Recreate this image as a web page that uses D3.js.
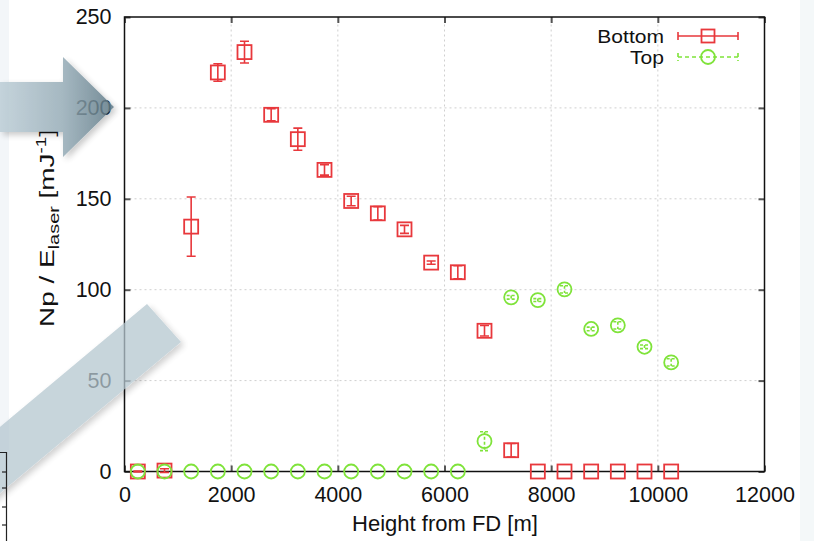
<!DOCTYPE html>
<html><head><meta charset="utf-8">
<script src="https://cdn.jsdelivr.net/npm/d3@7"></script>
<style>html,body{margin:0;padding:0;background:#fff;}svg{display:block;font-family:"Liberation Sans",Arial,Helvetica,sans-serif;}</style>
</head><body>
<svg id="c" width="814" height="541"></svg>
<script>
// ---- data ----
const heights = [250,750,1250,1750,2250,2750,3250,3750,4250,4750,5250,5750,6250,6750,7250,7750,8250,8750,9250,9750,10250];
const bottomVals = [0,0.5,134.7,219.5,230.7,196.2,182.8,165.9,148.8,142.0,133.2,114.9,109.6,77.4,11.7,0,0,0,0,0,0];
const bottomErr  = [0.3,1.0,16.3,4.8,6.0,3.3,6.1,2.9,2.6,3.7,2.2,0.9,3.6,2.9,3.7,0,0,0,0,0,0];
const topVals = [0,0,0,0,0,0,0,0,0,0,0,0,0,16.7,95.8,94.3,100.2,78.4,80.4,68.6,60.0];
const topErr  = [0,0,0,0,0,0,0,0,0,0,0,0,0,5.2,1.0,0.8,2.0,1.0,2.0,1.0,2.0];
const xTicks = [0,2000,4000,6000,8000,10000,12000];
const yTicks = [0,50,100,150,200,250];
const seriesNames = ["Bottom","Top"];

const RED = "#e8383c", GREEN = "#7fe33a";
const svg = d3.select("#c");
const x = d3.scaleLinear().domain([0,12000]).range([124.5,764.5]);
const y = d3.scaleLinear().domain([0,250]).range([471.5,17]);

// gridlines
const g = svg.append("g");
g.selectAll(".gx").data(xTicks.filter(v=>v>0&&v<12000)).join("line")
  .attr("x1",d=>x(d)).attr("x2",d=>x(d)).attr("y1",y(0)).attr("y2",y(250))
  .attr("stroke","#cfcfcf").attr("stroke-width",1).attr("stroke-dasharray","2,3");
g.selectAll(".gy").data(yTicks.filter(v=>v>0&&v<250)).join("line")
  .attr("y1",d=>y(d)).attr("y2",d=>y(d)).attr("x1",x(0)).attr("x2",x(12000))
  .attr("stroke","#cfcfcf").attr("stroke-width",1).attr("stroke-dasharray","2,3");

// axes
const fs = 21.5;
const ax = svg.append("g").attr("transform",`translate(${x(0)},0)`)
  .call(d3.axisLeft(y).tickValues(yTicks).tickSize(-6).tickPadding(13).tickFormat(d3.format("d")));
const bx = svg.append("g").attr("transform",`translate(0,${y(0)})`)
  .call(d3.axisBottom(x).tickValues(xTicks).tickSize(-6).tickPadding(15).tickFormat(d3.format("d")));
const rx = svg.append("g").attr("transform",`translate(${x(12000)},0)`)
  .call(d3.axisRight(y).tickValues(yTicks).tickSize(-6).tickFormat(""));
const tx = svg.append("g").attr("transform",`translate(0,${y(250)})`)
  .call(d3.axisTop(x).tickValues(xTicks).tickSize(-6).tickFormat(""));
[ax,bx,rx,tx].forEach(a=>{
  a.select(".domain").remove();
  a.selectAll(".tick line").attr("stroke","#555").attr("stroke-width",2);
  a.selectAll("text").attr("font-size",fs).attr("fill","#111").attr("font-family","Liberation Sans, Arial, sans-serif");
});
// frame
svg.append("rect").attr("x",x(0)).attr("y",y(250)).attr("width",x(12000)-x(0)).attr("height",y(0)-y(250))
  .attr("fill","none").attr("stroke","#111").attr("stroke-width",1.5);

// axis titles
svg.append("text").attr("x",445).attr("y",531).attr("text-anchor","middle").attr("font-size",22).attr("fill","#111")
  .text("Height from FD [m]");
const yt = svg.append("text").attr("transform","translate(54,228) rotate(-90) scale(1.33,1)").attr("text-anchor","middle")
  .attr("font-size",21).attr("fill","#111");
yt.append("tspan").text("Np / E");
yt.append("tspan").attr("font-size",15).attr("dy",5).text("laser");
yt.append("tspan").attr("dy",-5).text(" [mJ");
yt.append("tspan").attr("font-size",14).attr("dy",-8).text("-1");
yt.append("tspan").attr("dy",8).text("]");

// series
function drawSeries(vals, errs, color, dash, shape){
  const s = svg.append("g");
  const idx = d3.range(vals.length);
  s.selectAll(".eb").data(idx.filter(i=>errs[i]>0)).join("path")
    .attr("d",i=>{
      const cx=x(heights[i]), y1=y(vals[i]+errs[i]), y2=y(vals[i]-errs[i]);
      return `M${cx},${y1}V${y2}M${cx-4.5},${y1}H${cx+4.5}M${cx-4.5},${y2}H${cx+4.5}`;
    })
    .attr("stroke",color).attr("stroke-width",1.6).attr("fill","none").attr("stroke-dasharray",dash);
  if(shape==="square"){
    s.selectAll(".pt").data(idx).join("rect")
      .attr("x",i=>x(heights[i])-7).attr("y",i=>y(vals[i])-7).attr("width",14).attr("height",14)
      .attr("fill","none").attr("stroke",color).attr("stroke-width",1.8);
  } else {
    s.selectAll(".pt").data(idx).join("circle")
      .attr("cx",i=>x(heights[i])).attr("cy",i=>y(vals[i])).attr("r",7)
      .attr("fill","none").attr("stroke",color).attr("stroke-width",1.8);
  }
}
drawSeries(bottomVals,bottomErr,RED,null,"square");
drawSeries(topVals,topErr,GREEN,"3,2","circle");

// legend
const lg = svg.append("g");
const legendRows = [{name:seriesNames[0],color:RED,dash:null,shape:"square",cy:36},
                    {name:seriesNames[1],color:GREEN,dash:"4,3",shape:"circle",cy:57}];
legendRows.forEach(r=>{
  lg.append("text").attr("transform",`translate(664,${r.cy+6.5}) scale(1.17,1)`).attr("text-anchor","end")
    .attr("font-size",18).attr("fill","#111").text(r.name);
  lg.append("path").attr("d",`M678,${r.cy}H738M678,${r.cy-4}V${r.cy+4}M738,${r.cy-4}V${r.cy+4}`)
    .attr("stroke",r.color).attr("stroke-width",1.6).attr("fill","none").attr("stroke-dasharray",r.dash);
  if(r.shape==="square") lg.append("rect").attr("x",701.5).attr("y",r.cy-6.5).attr("width",13).attr("height",13)
    .attr("fill","none").attr("stroke",r.color).attr("stroke-width",1.8);
  else lg.append("circle").attr("cx",708).attr("cy",r.cy).attr("r",7).attr("fill","none").attr("stroke",r.color).attr("stroke-width",1.8);
});

// slide decorations
const defs = svg.append("defs");
const gr = defs.append("linearGradient").attr("id","arrowGrad").attr("x1","0").attr("x2","1").attr("y1","0").attr("y2","0");
gr.append("stop").attr("offset","0%").attr("stop-color","#bccdd6");
gr.append("stop").attr("offset","55%").attr("stop-color","#96acb7");
gr.append("stop").attr("offset","100%").attr("stop-color","#5c7784");
const sh = defs.append("filter").attr("id","shadow").attr("x","-20%").attr("y","-20%").attr("width","150%").attr("height","150%");
sh.append("feDropShadow").attr("dx",3).attr("dy",3).attr("stdDeviation",3).attr("flood-color","#000").attr("flood-opacity",0.25);

svg.insert("rect",":first-child").attr("x",0).attr("y",0).attr("width",9).attr("height",450).attr("fill","#f3f6f9");
svg.insert("rect",":first-child").attr("x",800).attr("y",0).attr("width",14).attr("height",541).attr("fill","#f4f8f9");

svg.append("polygon").attr("points","0,82 63,82 63,57 114,107 63,157 63,132 0,132")
  .attr("fill","url(#arrowGrad)").attr("opacity",0.85).attr("filter","url(#shadow)");
svg.append("polygon").attr("points","147,304 181,342 -10,501.5 -10,435.2")
  .attr("fill","#b5c7d0").attr("opacity",0.75).attr("filter","url(#shadow)");

// table fragment bottom-left
const tf = svg.append("g").attr("stroke","#222").attr("stroke-width",1.2).attr("fill","none");
tf.append("path").attr("d","M0,452.5H6.5V541");
[472,488,507,525].forEach(v=>tf.append("path").attr("d",`M2,${v}H6.5`));
</script>
</body></html>
